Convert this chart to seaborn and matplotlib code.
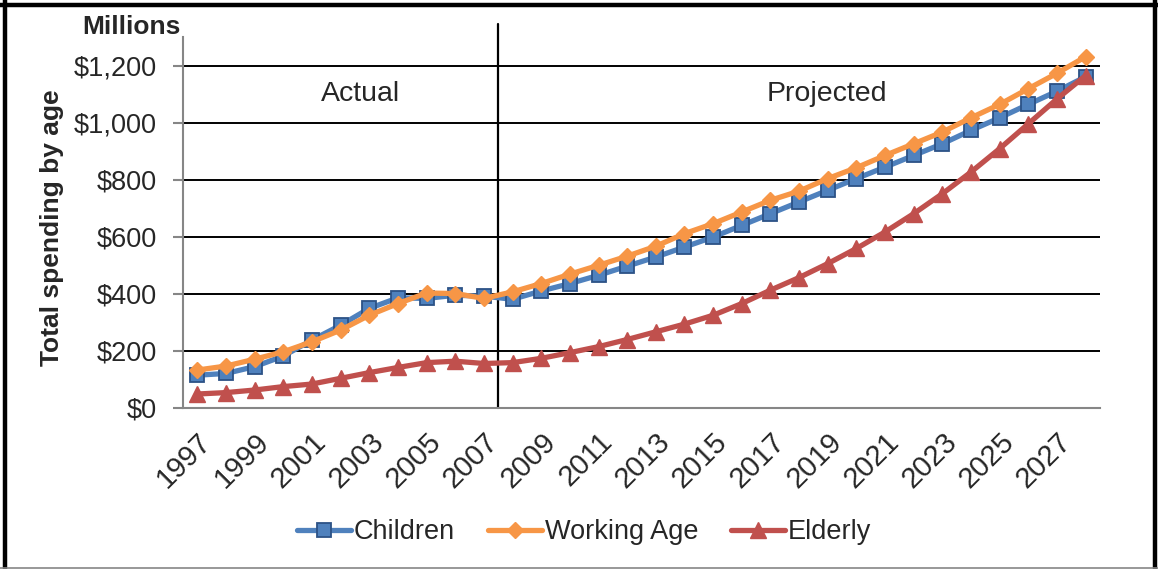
import numpy as np
import pandas as pd
import matplotlib
matplotlib.use("Agg")
import matplotlib.pyplot as plt
from matplotlib.lines import Line2D
import seaborn as sns

# Spending by age group, millions of dollars
years = list(range(1997, 2029))
children = [115, 121, 145, 182, 238, 290, 349, 386, 384, 395, 392,
            381, 410, 436, 465, 497, 529, 564, 599, 640, 681, 722,
            763, 804, 844, 885, 926, 973, 1017, 1064, 1110, 1161]
working_age = [133, 147, 171, 197, 232, 273, 325, 366, 403, 401, 384,
               407, 436, 469, 500, 532, 567, 611, 646, 687, 728, 760,
               804, 842, 885, 926, 967, 1017, 1064, 1119, 1173, 1231]
elderly = [49, 54, 63, 75, 84, 104, 124, 142, 159, 164, 156,
           159, 174, 194, 215, 240, 267, 294, 325, 366, 413, 457,
           506, 559, 617, 681, 751, 827, 909, 996, 1083, 1165]
y_ticks = [0, 200, 400, 600, 800, 1000, 1200]
y_tick_labels = ["$0", "$200", "$400", "$600", "$800", "$1,000", "$1,200"]
last_actual_year = 2007

sns.set_theme(style="white")
plt.rcParams["font.family"] = ["Liberation Sans", "DejaVu Sans"]

df = pd.DataFrame({"idx": np.arange(len(years)), "Children": children,
                   "Working Age": working_age, "Elderly": elderly})

fig = plt.figure(figsize=(11.58, 5.69), dpi=100)
ax = fig.add_axes([183 / 1158, 1 - 408 / 569, (1100 - 183) / 1158, (408 - 37) / 569])

styles = {
    "Children": dict(color="#4F81BD", marker="s", markersize=10.5,
                     markerfacecolor="#4F81BD", markeredgecolor="#2C5286", markeredgewidth=1.3),
    "Working Age": dict(color="#F79646", marker="D", markersize=8,
                        markerfacecolor="#F79646", markeredgecolor="#F79646", markeredgewidth=1),
    "Elderly": dict(color="#C0504D", marker="^", markersize=11,
                    markerfacecolor="#C0504D", markeredgecolor="#C0504D", markeredgewidth=1),
}
for name, st in styles.items():
    sns.lineplot(data=df, x="idx", y=name, ax=ax, label=name, linewidth=3.8,
                 zorder=3, **st)

ax.set_xlim(-0.5, len(years) - 0.5)
ax.set_ylim(0, 1300)
ax.set_yticks(y_ticks)
ax.set_yticklabels(y_tick_labels, fontsize=19.5)
ax.yaxis.grid(True, color="black", linewidth=1.4)
ax.set_axisbelow(True)

label_idx = [i for i, y in enumerate(years) if (y - years[0]) % 2 == 0]
ax.set_xticks(label_idx)
ax.set_xticklabels([str(years[i]) for i in label_idx], rotation=45, ha="right",
                   va="top", rotation_mode="anchor", fontsize=21)
ax.set_xticks(np.arange(-0.5, len(years)), minor=True)
ax.tick_params(axis="x", which="major", length=0, pad=14)
ax.tick_params(axis="x", which="minor", length=7, width=1.5, color="#868686", direction="out")
ax.tick_params(axis="y", length=7, width=1.5, color="#868686", direction="out", pad=12, left=True)
ax.set_xlabel("")
ax.set_ylabel("")

for side in ["top", "right"]:
    ax.spines[side].set_visible(False)
for side in ["left", "bottom"]:
    ax.spines[side].set_color("#868686")
    ax.spines[side].set_linewidth(1.5)

# Divider between actual and projected years
split = years.index(last_actual_year) + 0.5
ax.plot([split, split], [0, 1347], color="black", linewidth=1.6, clip_on=False, zorder=2)
ax.text(5.7, 1100, "Actual", fontsize=20.5, ha="center", va="center")
ax.text(21.97, 1100, "Projected", fontsize=20.5, ha="center", va="center")

fig.text(131 / 1158, 1 - 27 / 569, "Millions", fontsize=19, fontweight="bold",
         ha="center", va="center")
fig.text(52 / 1158, 1 - 228 / 569, "Total spending by age", fontsize=19,
         fontweight="bold", rotation=90, ha="center", va="center")

ax.get_legend().remove()
fig.legend(handles=ax.get_lines()[:3], labels=list(styles.keys()), loc="center",
           bbox_to_anchor=(584 / 1158, 1 - 532 / 569), ncol=3, frameon=False,
           fontsize=19.5, handlelength=2.0, handletextpad=0.1, columnspacing=1.2)

# Outer frame
fig.add_artist(Line2D([0, 1], [1 - 5 / 569] * 2, transform=fig.transFigure, color="black", linewidth=3.2))
fig.add_artist(Line2D([5 / 1158] * 2, [0, 1], transform=fig.transFigure, color="black", linewidth=3.2))
fig.add_artist(Line2D([1155 / 1158] * 2, [0, 1], transform=fig.transFigure, color="black", linewidth=3.2))
fig.add_artist(Line2D([0, 1], [1 - 567.5 / 569] * 2, transform=fig.transFigure, color="#868686", linewidth=1.2))

fig.savefig("out.png", dpi=100)
